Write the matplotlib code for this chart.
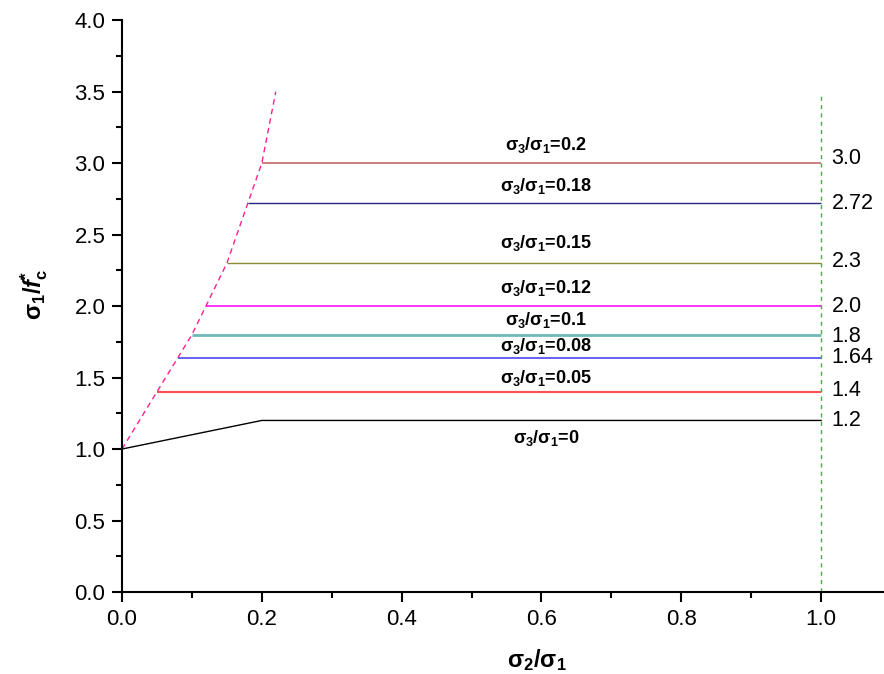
import matplotlib
matplotlib.use("Agg")
import matplotlib.pyplot as plt
from matplotlib.ticker import MultipleLocator, FormatStrFormatter

plt.rcParams['font.family'] = ['Liberation Sans', 'DejaVu Sans']
plt.rcParams['mathtext.fontset'] = 'custom'
plt.rcParams['mathtext.rm'] = 'Liberation Sans:bold'
plt.rcParams['mathtext.it'] = 'Liberation Sans:bold:italic'
plt.rcParams['mathtext.bf'] = 'Liberation Sans:bold'

# data
ratios = ["0.2", "0.18", "0.15", "0.12", "0.1", "0.08", "0.05"]
start_x = [0.20, 0.18, 0.15, 0.12, 0.10, 0.08, 0.05]
levels = [3.0, 2.72, 2.3, 2.0, 1.8, 1.64, 1.4]
colors = ["#C06868", "#28287E", "#8A8A30", "#FF10FF", "#70B8B8", "#4848F0", "#FF5050"]
widths = [1.2, 1.0, 1.0, 1.2, 2.0, 1.2, 1.5]
level_labels = ["3.0", "2.72", "2.3", "2.0", "1.8", "1.64", "1.4"]
label_y = [3.13, 2.84, 2.44, 2.13, 1.90, 1.72, 1.50]
right_label_y = [3.03, 2.72, 2.31, 2.0, 1.79, 1.64, 1.41]

zero_x = [0.0, 0.2, 1.0]
zero_y = [1.0, 1.2, 1.2]

envelope_x = [0.0, 0.05, 0.08, 0.10, 0.12, 0.15, 0.18, 0.20, 0.22]
envelope_y = [1.0, 1.4, 1.64, 1.8, 2.0, 2.3, 2.72, 3.0, 3.5]

vline_x = 1.0
vline_top = 3.5

fig = plt.figure(figsize=(8.84, 6.74), dpi=100)
ax = fig.add_axes([0.138, 0.1217, 0.862, 0.8483])

for sx, lv, c, w in zip(start_x, levels, colors, widths):
    ax.plot([sx, 1.0], [lv, lv], color=c, lw=w, solid_capstyle='butt')
ax.plot(zero_x, zero_y, color='black', lw=1.0)
ax.plot(envelope_x, envelope_y, color='#FF2090', lw=1.0, ls=(0, (4, 3)))
ax.plot([vline_x, vline_x], [0, vline_top], color='#4CA84C', lw=1.0, ls=(0, (3, 3)))

for r, ly in zip(ratios, label_y):
    ax.text(0.607, ly, r'σ$_3$/σ$_1$=' + r, ha='center', va='center',
            fontsize=13, fontweight='bold')
ax.text(0.607, 1.08, r'σ$_3$/σ$_1$=0', ha='center', va='center',
        fontsize=13, fontweight='bold')

for t, ry in zip(level_labels, right_label_y):
    ax.text(1.015, ry, t, ha='left', va='center', fontsize=15.5)
ax.text(1.015, 1.20, "1.2", ha='left', va='center', fontsize=15.5)

ax.set_xlim(0, 1.09)
ax.set_ylim(0, 4.0)
ax.xaxis.set_major_locator(MultipleLocator(0.2))
ax.xaxis.set_minor_locator(MultipleLocator(0.1))
ax.yaxis.set_major_locator(MultipleLocator(0.5))
ax.yaxis.set_minor_locator(MultipleLocator(0.25))
ax.xaxis.set_major_formatter(FormatStrFormatter('%.1f'))
ax.yaxis.set_major_formatter(FormatStrFormatter('%.1f'))

for s in ['top', 'right']:
    ax.spines[s].set_visible(False)
for s in ['left', 'bottom']:
    ax.spines[s].set_linewidth(1.5)
ax.tick_params(which='major', direction='out', length=7, width=1.5, labelsize=16, pad=5)
ax.tick_params(which='minor', direction='out', length=4, width=1.5)

ax.set_xlabel(r'σ$_2$/σ$_1$', fontsize=17, fontweight='bold')
ax.set_ylabel(r'σ$_1$/$\mathit{f}$$_\mathrm{c}^\mathrm{*}$', fontsize=17, fontweight='bold')
ax.xaxis.set_label_coords(0.545, -0.097)
ax.yaxis.set_label_coords(-0.094, 0.52)

fig.savefig("out.png", dpi=100)
